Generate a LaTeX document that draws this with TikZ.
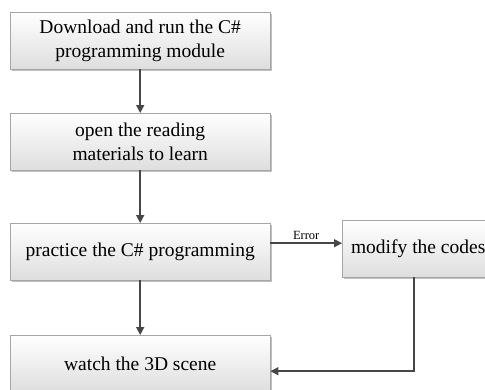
\documentclass[tikz,border=0pt]{standalone}
\usepackage{fontspec}
\setmainfont{Liberation Serif}
\usetikzlibrary{arrows.meta,shadows}
\begin{document}
\begin{tikzpicture}[x=1pt,y=-1pt,
  box/.style={draw=black!35, top color=white, bottom color=black!13,
    minimum width=260pt, minimum height=57pt, align=center, inner sep=0pt,
    anchor=north west, font=\fontsize{19.5}{24}\selectfont,
    drop shadow={shadow xshift=1.5pt, shadow yshift=-1.5pt, opacity=0.25, fill=black}},
  arr/.style={draw=black!72, line width=1.5pt, -{Triangle[length=8pt,width=8pt]}},
  lbl/.style={font=\fontsize{12.5}{14}\selectfont, inner sep=2pt}]
\useasboundingbox (0,0) rectangle (485,389);
\clip (0,0) rectangle (485,389);
\node[box] (b1) at (10,12) {Download and run the C\#\\programming module};
\node[box] (b2) at (10,113) {open the reading\\materials to learn};
\node[box] (b3) at (10,223) {practice the C\# programming};
\node[box] (b4) at (10,335) {watch the 3D scene};
\node[box, minimum width=152pt] (b5) at (342,220) {modify the codes};
\draw[arr] (b1) -- (b2);
\draw[arr] (b2) -- (b3);
\draw[arr] (b3) -- (b4);
\draw[arr] ([yshift=8.5pt]b3.east) coordinate (e1) -- (e1 -| b5.west)
  node[lbl, midway, above, yshift=1pt] {Error};
\draw[arr] ([xshift=-4pt]b5.south) |- ([yshift=-7.5pt]b4.east);
\end{tikzpicture}
\end{document}
